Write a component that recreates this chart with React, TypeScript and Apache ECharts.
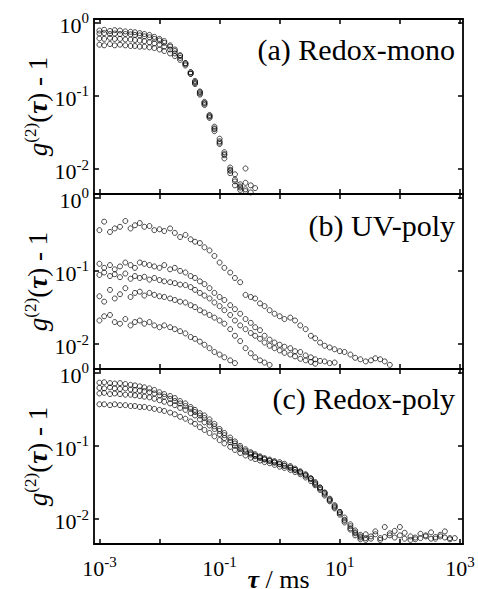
import React, { useEffect, useRef } from 'react';
import * as echarts from 'echarts';

// ---------- data (tau in ms, g2(tau)-1) ----------
const tauA = [0.001, 0.0012, 0.0015, 0.0018, 0.0022, 0.0027, 0.0033, 0.0039, 0.0047, 0.0056, 0.0068, 0.0082,
  0.01, 0.012, 0.015, 0.018, 0.022, 0.027, 0.033, 0.039, 0.047, 0.056, 0.068, 0.082,
  0.1, 0.12, 0.15, 0.18, 0.22, 0.27, 0.33, 0.39];
const redoxMono1 = [0.78, 0.80, 0.77, 0.79, 0.78, 0.76, 0.75, 0.74, 0.72, 0.70, 0.68, 0.64, 0.60, 0.56, 0.49, 0.43, 0.36, 0.28, 0.21, 0.16, 0.115, 0.083, 0.055, 0.038, 0.026, 0.017, 0.0105, 0.0072, 0.0058, 0.0065, 0.0048, null];
const redoxMono2 = [0.71, 0.72, 0.70, 0.71, 0.70, 0.70, 0.69, 0.68, 0.67, 0.65, 0.63, 0.60, 0.57, 0.53, 0.47, 0.41, 0.35, 0.28, 0.21, 0.155, 0.112, 0.080, 0.053, 0.036, 0.024, 0.016, 0.0098, 0.0068, 0.0062, 0.0053, null, null];
const redoxMono3 = [0.61, 0.60, 0.62, 0.60, 0.60, 0.59, 0.59, 0.58, 0.57, 0.56, 0.54, 0.52, 0.50, 0.47, 0.43, 0.38, 0.33, 0.27, 0.20, 0.15, 0.108, 0.078, 0.052, 0.035, 0.023, 0.0155, 0.0095, 0.0085, 0.0056, 0.0102, null, 0.0055];
const redoxMono4 = [0.50, 0.49, 0.51, 0.49, 0.50, 0.49, 0.48, 0.48, 0.47, 0.47, 0.46, 0.45, 0.43, 0.41, 0.38, 0.35, 0.31, 0.26, 0.20, 0.145, 0.104, 0.075, 0.050, 0.033, 0.022, 0.014, 0.0088, 0.0060, 0.0052, 0.0050, 0.0060, null];

const tauB = [0.001, 0.0012, 0.0015, 0.0018, 0.0022, 0.0027, 0.0033, 0.0039, 0.0047, 0.0056, 0.0068, 0.0082,
  0.01, 0.012, 0.015, 0.018, 0.022, 0.027, 0.033, 0.039, 0.047, 0.056, 0.068, 0.082,
  0.1, 0.12, 0.15, 0.18, 0.22, 0.27, 0.33, 0.39, 0.47, 0.56, 0.68, 0.82,
  1, 1.2, 1.5, 1.8, 2.2, 2.7, 3.3, 3.9, 4.7, 5.6, 6.8, 8.2,
  10, 12, 15, 18, 22, 27, 33, 39, 47, 56, 68, 82];
const uvPoly1 = [0.36, 0.47, 0.34, 0.38, 0.40, 0.48, 0.38, 0.42, 0.45, 0.40, 0.41, 0.36, 0.37, 0.35, 0.38, 0.33, 0.29, 0.31, 0.27, 0.25, 0.24, 0.21, 0.19, 0.16,
  0.13, 0.11, 0.095, 0.080, 0.070, 0.047, 0.044, 0.042, 0.036, 0.033, 0.029, 0.026, 0.024, 0.022, 0.023, 0.021, 0.018, 0.016, 0.013, 0.012,
  0.0105, 0.0095, 0.0090, 0.0085, 0.0080, 0.0078, 0.0072, 0.0065, 0.0062, 0.0058, 0.0060, 0.0064, 0.0062, 0.0058, 0.0052, null];
const uvPoly2 = [0.125, 0.11, 0.12, 0.105, 0.115, 0.13, 0.12, 0.11, 0.13, 0.125, 0.12, 0.115, 0.11, 0.12, 0.105, 0.11, 0.10, 0.095, 0.085, 0.08, 0.072, 0.066, 0.058, 0.050,
  0.044, 0.040, 0.034, 0.030, 0.026, 0.022, 0.0195, 0.017, 0.0155, 0.013, 0.0115, 0.0105, 0.0098, 0.0092, 0.0088, 0.0080, 0.0078, 0.0070, 0.0066, 0.0062,
  0.0059, 0.0058, 0.0055, 0.0056];
const uvPoly3 = [0.088, 0.095, 0.085, 0.09, 0.082, 0.092, 0.078, 0.085, 0.08, 0.083, 0.076, 0.080, 0.075, 0.072, 0.070, 0.068, 0.065, 0.064, 0.060, 0.055, 0.050, 0.046, 0.042, 0.037,
  0.033, 0.029, 0.025, 0.021, 0.018, 0.016, 0.0142, 0.013, 0.0118, 0.0105, 0.0095, 0.0088, 0.0082, 0.0076, 0.0072, 0.0068, 0.0063, 0.0060, 0.0057, 0.0054];
const uvPoly4 = [0.045, 0.038, 0.055, 0.042, 0.048, 0.058, 0.044, 0.05, 0.052, 0.046, 0.05, 0.047, 0.045, 0.044, 0.042, 0.040, 0.038, 0.037, 0.034, 0.032, 0.029, 0.027, 0.025, 0.023,
  0.021, 0.019, 0.016, 0.013, 0.011, 0.0088, 0.0075, 0.0066, 0.0060, 0.0056, 0.0052];
const uvPoly5 = [0.021, 0.024, 0.025, 0.020, 0.019, 0.022, 0.018, 0.020, 0.021, 0.019, 0.020, 0.018, 0.017, 0.018, 0.017, 0.016, 0.015, 0.014, 0.0125, 0.0118, 0.0108, 0.0098, 0.0088, 0.0078,
  0.0072, 0.0066, 0.0060, 0.0055];

const tauC = [0.001, 0.0012, 0.0015, 0.0018, 0.0022, 0.0027, 0.0033, 0.0039, 0.0047, 0.0056, 0.0068, 0.0082,
  0.01, 0.012, 0.015, 0.018, 0.022, 0.027, 0.033, 0.039, 0.047, 0.056, 0.068, 0.082,
  0.1, 0.12, 0.15, 0.18, 0.22, 0.27, 0.33, 0.39, 0.47, 0.56, 0.68, 0.82,
  1, 1.2, 1.5, 1.8, 2.2, 2.7, 3.3, 3.9, 4.7, 5.6, 6.8, 8.2,
  10, 12, 15, 18, 22, 27, 33, 39, 47, 56, 68, 82,
  100, 120, 150, 180, 220, 270, 330, 390, 470, 560, 680, 820];
const redoxPoly1 = [0.73, 0.74, 0.72, 0.71, 0.72, 0.70, 0.68, 0.67, 0.65, 0.63, 0.61, 0.58, 0.54, 0.51, 0.48, 0.45, 0.41, 0.38, 0.34, 0.31, 0.28, 0.26, 0.23, 0.20,
  0.17, 0.15, 0.13, 0.115, 0.10, 0.09, 0.082, 0.077, 0.072, 0.068, 0.065, 0.062, 0.060, 0.057, 0.053, 0.049, 0.045, 0.041, 0.036, 0.032,
  0.027, 0.023, 0.019, 0.0155, 0.0125, 0.0105, 0.0085, 0.0070, 0.0061, 0.0055, 0.0058, 0.0062, 0.0052, 0.0057, 0.0064, 0.0069,
  0.0060, 0.0054, 0.0052, 0.0056, 0.0055, 0.0058, 0.0066, 0.0054, 0.0058, 0.0056, 0.0053, 0.0055];
const redoxPoly2 = [0.62, 0.61, 0.63, 0.61, 0.60, 0.61, 0.59, 0.58, 0.57, 0.56, 0.54, 0.52, 0.49, 0.47, 0.44, 0.41, 0.38, 0.35, 0.32, 0.29, 0.26, 0.24, 0.21, 0.185,
  0.16, 0.14, 0.12, 0.108, 0.095, 0.086, 0.079, 0.074, 0.070, 0.066, 0.063, 0.060, 0.057, 0.054, 0.051, 0.047, 0.043, 0.039, 0.035, 0.030,
  0.026, 0.022, 0.018, 0.0145, 0.0120, 0.0098, 0.0080, 0.0066, 0.0058, 0.0062, 0.0054, 0.0068, 0.0055, 0.0078, 0.0060, 0.0056,
  0.0078, 0.0065, 0.0058, 0.0053, 0.0063, 0.0060, 0.0054, 0.0057, 0.0061, 0.0068, 0.0055, null];
const redoxPoly3 = [0.52, 0.53, 0.51, 0.52, 0.51, 0.50, 0.50, 0.49, 0.48, 0.47, 0.46, 0.44, 0.42, 0.40, 0.38, 0.36, 0.33, 0.31, 0.28, 0.26, 0.23, 0.21, 0.19, 0.17,
  0.145, 0.128, 0.112, 0.100, 0.090, 0.082, 0.076, 0.072, 0.068, 0.065, 0.062, 0.059, 0.056, 0.053, 0.050, 0.047, 0.044, 0.040, 0.036, 0.031,
  0.027, 0.023, 0.0185, 0.0150, 0.0125, 0.0095, 0.0075, 0.0064, 0.0056, 0.0052];
const redoxPoly4 = [0.37, 0.37, 0.36, 0.37, 0.36, 0.36, 0.35, 0.35, 0.34, 0.34, 0.33, 0.32, 0.31, 0.30, 0.285, 0.27, 0.25, 0.235, 0.215, 0.20, 0.18, 0.165, 0.15, 0.135,
  0.12, 0.108, 0.097, 0.088, 0.080, 0.074, 0.069, 0.066, 0.063, 0.060, 0.058, 0.055, 0.052, 0.050, 0.047, 0.044, 0.041, 0.037, 0.033, 0.029,
  0.025, 0.021, 0.0175, 0.014, 0.0115, 0.0090, 0.0072, 0.0060, 0.0053];

const panelTitles = ['(a) Redox-mono', '(b) UV-poly', '(c) Redox-poly'];
const xTickValues = [0.001, 0.01, 0.1, 1, 10, 100, 1000];
const xLabelValues = [0.001, 0.1, 10, 1000];
const yTickValues = [1, 0.1, 0.01];

// ---------- layout ----------
const FONT = 'Liberation Serif';
const X_MIN = Math.pow(10, -3.09);
const X_MAX = Math.pow(10, 3.05);
const Y_MIN = Math.pow(10, -2.34);
const Y_MAX = Math.pow(10, 0.05);
const GRID_LEFT = 94;
const GRID_RIGHT = 15;
const PANEL_TOPS = [19, 194, 369];
const PANEL_H = 175;

function pairs(tau: number[], ys: (number | null)[]) {
  const out: number[][] = [];
  ys.forEach((y, i) => {
    if (y != null && i < tau.length) out.push([tau[i], y]);
  });
  return out;
}

const labelRich = {
  b: { fontSize: 22, fontFamily: FONT, color: '#000', lineHeight: 24, padding: [5, 0, 0, 0] },
  s: { fontSize: 15, fontFamily: FONT, color: '#000', lineHeight: 14, verticalAlign: 'top' },
};

function powLabel(v: number) {
  const e = Math.round(Math.log10(v));
  const es = e < 0 ? '-' + Math.abs(e) : String(e);
  return '{b|10}{s|' + es + '}';
}

export default function App() {
  const ref = useRef<HTMLDivElement>(null);
  useEffect(() => {
    if (!ref.current) return;
    const chart = echarts.init(ref.current, undefined, { renderer: 'svg' });

    const panels = [
      [[tauA, redoxMono1], [tauA, redoxMono2], [tauA, redoxMono3], [tauA, redoxMono4]],
      [[tauB, uvPoly1], [tauB, uvPoly2], [tauB, uvPoly3], [tauB, uvPoly4], [tauB, uvPoly5]],
      [[tauC, redoxPoly1], [tauC, redoxPoly2], [tauC, redoxPoly3], [tauC, redoxPoly4]],
    ] as any[];

    const grid: any[] = [];
    const xAxis: any[] = [];
    const yAxis: any[] = [];
    const series: any[] = [];
    const lineStyle = { color: '#000', width: 1.8 };
    const tickStyle = { color: '#000', width: 1.5 };

    PANEL_TOPS.forEach((top, p) => {
      grid.push({
        left: GRID_LEFT, right: GRID_RIGHT, top, height: PANEL_H,
        containLabel: false, outerBoundsMode: 'none',
      });
      const isBottom = p === 2;
      xAxis.push({
        type: 'log', gridIndex: p, position: 'bottom', min: X_MIN, max: X_MAX,
        axisLine: { show: true, lineStyle },
        axisTick: { show: true, inside: true, length: 5, customValues: xTickValues, lineStyle: tickStyle },
        axisLabel: isBottom
          ? { show: true, customValues: xLabelValues, formatter: powLabel, rich: labelRich, margin: 10, fontFamily: FONT }
          : { show: false },
        splitLine: { show: false },
        name: isBottom ? '{t|τ}{n| / ms}' : '',
        nameLocation: 'middle',
        nameGap: 22,
        nameMoveOverlap: false,
        nameTextStyle: {
          fontFamily: FONT,
          rich: {
            t: { fontSize: 26, fontFamily: FONT, fontStyle: 'italic', fontWeight: 'bold', color: '#000' },
            n: { fontSize: 26, fontFamily: FONT, color: '#000' },
          },
        },
      });
      xAxis.push({
        type: 'log', gridIndex: p, position: 'top', min: X_MIN, max: X_MAX,
        axisLine: { show: true, lineStyle },
        axisTick: { show: true, inside: true, length: 5, customValues: xTickValues, lineStyle: tickStyle },
        axisLabel: { show: false },
        splitLine: { show: false },
      });
      yAxis.push({
        type: 'log', gridIndex: p, position: 'left', min: Y_MIN, max: Y_MAX,
        axisLine: { show: true, lineStyle },
        axisTick: { show: true, inside: true, length: 5, customValues: yTickValues, lineStyle: tickStyle },
        axisLabel: { show: true, customValues: yTickValues, formatter: powLabel, rich: labelRich, margin: 5, fontFamily: FONT },
        splitLine: { show: false },
        name: '{i|g}{s|(2)}{n|(}{t|τ}{n|) - 1}',
        nameLocation: 'middle',
        nameRotate: 90,
        nameGap: 45,
        nameMoveOverlap: false,
        nameTextStyle: {
          fontFamily: FONT,
          rich: {
            i: { fontSize: 27, fontFamily: FONT, fontStyle: 'italic', color: '#000', lineHeight: 27, padding: [5, 0, 0, 0] },
            s: { fontSize: 17, fontFamily: FONT, color: '#000', lineHeight: 16, verticalAlign: 'top' },
            n: { fontSize: 27, fontFamily: FONT, color: '#000', lineHeight: 27, padding: [5, 0, 0, 0] },
            t: { fontSize: 27, fontFamily: FONT, fontStyle: 'italic', fontWeight: 'bold', color: '#000', lineHeight: 27, padding: [5, 0, 0, 0] },
          },
        },
      });
      yAxis.push({
        type: 'log', gridIndex: p, position: 'right', min: Y_MIN, max: Y_MAX,
        axisLine: { show: true, lineStyle },
        axisTick: { show: true, inside: true, length: 5, customValues: yTickValues, lineStyle: tickStyle },
        axisLabel: { show: false },
        splitLine: { show: false },
      });

      panels[p].forEach(([tau, ys]: any, k: number) => {
        series.push({
          type: 'scatter',
          name: panelTitles[p] + ' ' + (k + 1),
          xAxisIndex: 2 * p,
          yAxisIndex: 2 * p,
          data: pairs(tau, ys),
          symbol: 'circle',
          symbolSize: 5,
          itemStyle: { color: 'rgba(0,0,0,0)', borderColor: '#000', borderWidth: 0.9 },
          emphasis: { disabled: true },
        });
      });
    });

    const titleY = [49, 225, 398];
    const graphic = panelTitles.map((t, p) => ({
      type: 'text',
      x: 455,
      y: titleY[p],
      style: {
        text: t,
        align: 'right',
        verticalAlign: 'middle',
        fontSize: 30,
        fontFamily: FONT,
        fill: '#000',
      },
    }));

    chart.setOption({
      animation: false,
      backgroundColor: '#fff',
      textStyle: { fontFamily: FONT },
      grid,
      xAxis,
      yAxis,
      series,
      graphic,
    });
    return () => chart.dispose();
  }, []);

  return <div ref={ref} style={{ width: 478, height: 589, position: 'absolute', left: 0, top: 0 }} />;
}
